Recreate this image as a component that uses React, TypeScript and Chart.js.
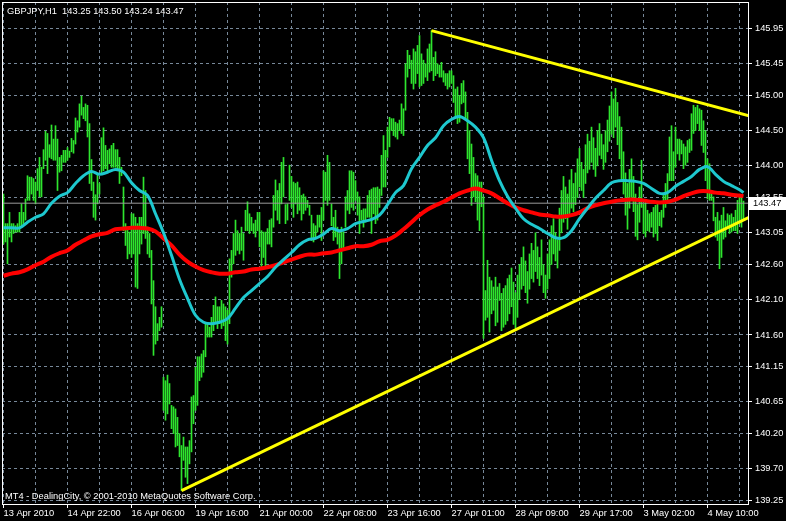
import { useEffect, useRef } from "react";
import { Chart, registerables } from "chart.js";

Chart.register(...registerables);

const WIDTH = 786;
const HEIGHT = 521;

const HEADER = "GBPJPY,H1  143.25 143.50 143.24 143.47";
const FOOTER = "MT4 - DealingCity, \u00a9 2001-2010 MetaQuotes Software Corp.";
const LAST_PRICE = 143.47;

// Time labels, one every 32 hourly bars
const TIME_LABELS = [
  "13 Apr 2010", "14 Apr 22:00", "16 Apr 06:00", "19 Apr 16:00", "21 Apr 00:00", "22 Apr 08:00",
  "23 Apr 16:00", "27 Apr 01:00", "28 Apr 09:00", "29 Apr 17:00", "3 May 02:00", "4 May 10:00",
];

const PRICE_TICKS = [
  145.95, 145.45, 145.0, 144.5, 144.0, 143.55, 143.05, 142.6, 142.1, 141.6, 141.15, 140.65, 140.2, 139.7, 139.25,
];

// Hourly bar highs
const HIGH = [
  143.60, 143.18, 143.18, 143.34, 143.18, 143.18, 143.15, 143.18, 143.34, 143.46, 143.34, 143.53, 143.86, 143.84, 143.84, 143.82,
  143.77, 143.96, 144.12, 143.98, 144.23, 144.49, 144.46, 144.30, 144.58, 144.38, 144.57, 144.38, 144.12, 144.15, 144.22, 144.22,
  144.26, 144.21, 144.39, 144.36, 144.68, 144.64, 144.88, 144.99, 144.83, 144.88, 144.86, 144.60, 144.09, 143.77, 143.59, 143.89,
  143.75, 144.40, 144.54, 144.29, 144.22, 144.24, 144.29, 144.32, 144.23, 144.23, 144.12, 143.98, 143.70, 143.18, 143.13, 143.06,
  143.32, 143.32, 143.27, 143.18, 143.27, 143.27, 143.84, 143.65, 143.13, 143.04, 142.80, 142.37, 142.00, 141.76, 141.85, 142.00,
  141.00, 140.95, 141.03, 140.91, 140.60, 140.58, 140.55, 140.43, 140.20, 140.03, 140.15, 140.01, 140.01, 140.10, 140.72, 140.74,
  141.14, 141.29, 141.29, 141.33, 141.38, 141.76, 141.78, 141.71, 141.85, 142.02, 142.14, 142.00, 142.00, 142.09, 142.04, 142.00,
  141.95, 142.68, 142.80, 143.04, 143.23, 143.08, 143.04, 143.13, 143.04, 143.37, 143.49, 143.32, 143.27, 143.18, 143.23, 143.34,
  143.34, 143.08, 143.06, 143.06, 143.11, 143.23, 143.25, 143.58, 143.80, 143.65, 143.75, 144.05, 144.12, 143.45, 143.46, 144.01,
  143.85, 143.77, 143.75, 143.77, 143.69, 143.58, 143.60, 143.56, 143.51, 143.44, 143.30, 143.18, 143.15, 143.30, 143.30, 143.41,
  143.93, 143.91, 144.15, 144.05, 143.46, 143.27, 143.37, 143.13, 143.04, 143.13, 143.06, 143.56, 143.65, 143.93, 143.93, 143.91,
  143.79, 143.63, 143.56, 143.37, 143.39, 143.39, 143.58, 143.65, 143.67, 143.69, 143.69, 143.70, 143.67, 144.15, 144.43, 144.22,
  144.55, 144.69, 144.67, 144.67, 144.62, 144.60, 144.65, 144.88, 144.81, 145.45, 145.64, 145.57, 145.50, 145.66, 145.62, 145.71,
  145.85, 145.59, 145.50, 145.45, 145.66, 145.73, 145.92, 145.54, 145.62, 145.45, 145.43, 145.47, 145.35, 145.31, 145.31, 145.35,
  145.35, 145.28, 145.09, 145.12, 145.00, 145.17, 145.21, 145.05, 144.76, 144.50, 144.31, 144.12, 143.89, 143.86, 143.77, 143.77,
  143.56, 142.23, 142.66, 142.42, 142.37, 142.28, 142.42, 142.28, 142.33, 142.19, 142.26, 142.30, 142.40, 142.45, 142.55, 142.35,
  142.20, 142.45, 142.60, 142.70, 142.85, 142.65, 142.50, 142.75, 142.90, 142.80, 143.05, 142.85, 142.70, 142.95, 142.60, 142.45,
  142.75, 142.95, 143.15, 143.25, 143.05, 142.95, 143.40, 143.65, 143.85, 143.70, 143.60, 143.80, 143.95, 143.75, 143.90, 144.10,
  144.25, 144.05, 143.95, 144.30, 144.45, 144.35, 144.55, 144.40, 144.25, 144.50, 144.60, 144.45, 144.30, 144.50, 144.65, 144.85,
  145.05, 144.95, 145.10, 144.90, 144.70, 144.55, 144.20, 143.90, 143.75, 143.95, 144.10, 143.85, 143.60, 143.45, 143.70, 144.08,
  143.46, 143.51, 143.37, 143.32, 143.34, 143.41, 143.44, 143.46, 143.34, 143.37, 143.58, 143.75, 143.89, 144.41, 144.57, 144.20,
  144.55, 144.38, 144.38, 144.36, 144.31, 144.27, 144.36, 144.38, 144.74, 144.86, 144.83, 144.86, 144.81, 144.79, 144.64, 144.50,
  144.10, 144.03, 143.65, 143.56, 143.27, 143.34, 143.22, 143.30, 143.41, 143.22, 143.32, 143.30, 143.32, 143.27, 143.37, 143.51,
  143.58, 143.58, 143.50,
];

// Hourly bar lows
const LOW = [
  142.89, 142.92, 142.61, 142.99, 142.92, 143.04, 143.06, 143.06, 143.06, 143.13, 143.18, 143.23, 143.51, 143.51, 143.60, 143.51,
  143.46, 143.65, 143.56, 143.56, 143.96, 144.08, 143.89, 144.12, 144.10, 144.08, 144.08, 143.65, 143.91, 143.93, 144.05, 144.05,
  144.08, 144.12, 144.20, 144.18, 144.31, 144.48, 144.55, 144.72, 144.67, 144.64, 144.41, 143.75, 143.65, 143.27, 143.23, 143.46,
  143.60, 143.89, 143.93, 143.96, 143.93, 144.03, 143.98, 143.98, 143.98, 143.93, 143.75, 143.86, 143.08, 142.87, 142.68, 142.75,
  142.70, 142.75, 142.28, 142.26, 142.75, 142.89, 143.04, 142.97, 142.75, 142.70, 142.04, 141.31, 141.47, 141.52, 141.66, 141.71,
  140.53, 140.39, 140.48, 140.62, 140.27, 140.20, 140.01, 140.03, 139.87, 139.39, 139.82, 139.58, 139.49, 139.77, 139.94, 140.34,
  140.53, 140.60, 140.95, 141.00, 141.07, 141.29, 141.57, 141.57, 141.57, 141.66, 141.76, 141.69, 141.76, 141.69, 141.73, 141.52,
  141.47, 141.76, 142.42, 142.61, 142.73, 142.80, 142.75, 142.80, 142.66, 143.08, 143.08, 143.04, 143.08, 143.04, 142.99, 143.08,
  142.85, 142.56, 142.70, 142.56, 142.89, 142.89, 142.85, 143.13, 143.37, 143.23, 143.18, 143.46, 143.56, 143.18, 143.23, 143.51,
  143.41, 143.27, 143.46, 143.32, 143.37, 143.23, 143.32, 143.37, 143.41, 143.30, 142.94, 142.92, 142.99, 143.06, 143.13, 142.94,
  143.23, 143.51, 143.44, 143.51, 143.15, 142.94, 142.99, 142.89, 142.40, 142.61, 142.80, 143.13, 143.37, 143.32, 143.41, 143.37,
  143.51, 143.30, 143.04, 143.23, 143.13, 143.20, 143.27, 143.27, 143.04, 143.32, 143.18, 143.23, 143.41, 143.58, 143.70, 143.70,
  144.12, 144.27, 144.50, 144.43, 144.41, 144.38, 144.50, 144.46, 144.43, 144.79, 145.26, 145.38, 145.17, 145.09, 145.17, 145.31,
  145.12, 145.14, 145.17, 145.26, 145.21, 145.33, 145.35, 145.21, 145.28, 145.31, 145.26, 145.26, 145.19, 145.14, 145.09, 145.12,
  145.17, 144.90, 144.69, 144.60, 144.62, 144.88, 144.90, 144.65, 144.10, 143.89, 143.44, 143.56, 143.49, 143.23, 143.08, 143.42,
  141.55, 141.81, 141.85, 141.64, 141.90, 141.95, 141.73, 141.78, 142.09, 141.66, 141.71, 141.75, 141.80, 141.90, 142.00, 141.75,
  141.70, 141.85, 142.10, 142.25, 142.30, 142.20, 142.05, 142.25, 142.40, 142.35, 142.50, 142.40, 142.30, 142.45, 142.20, 142.12,
  142.25, 142.40, 142.60, 142.75, 142.65, 142.55, 142.80, 143.05, 143.20, 143.25, 143.10, 143.30, 143.40, 143.35, 143.45, 143.55,
  143.70, 143.65, 143.55, 143.75, 143.90, 143.95, 144.05, 143.95, 143.85, 144.00, 144.15, 144.10, 143.95, 144.05, 144.20, 144.35,
  144.45, 144.40, 144.55, 144.30, 144.10, 143.80, 143.60, 143.30, 143.10, 143.40, 143.55, 143.35, 143.00, 142.95, 143.20, 143.41,
  143.04, 142.99, 143.08, 143.06, 143.13, 142.99, 143.04, 142.94, 143.15, 143.13, 143.27, 143.41, 143.51, 143.79, 143.79, 143.79,
  143.98, 144.17, 144.08, 144.17, 143.96, 144.01, 144.05, 144.19, 144.22, 144.46, 144.50, 144.60, 144.50, 144.29, 144.19, 143.79,
  143.53, 143.51, 143.51, 143.22, 142.99, 142.94, 142.54, 142.70, 142.96, 142.99, 143.11, 143.04, 143.06, 143.08, 143.08, 143.04,
  143.18, 143.13, 143.24,
];

// Moving averages, sampled every MA_STEP bars (the last sample sits on the final bar)
const MA_STEP = 4;
const MA_FAST = [
  143.12, 143.12, 143.12, 143.20, 143.27, 143.32, 143.47, 143.57, 143.62, 143.75, 143.86, 143.92, 143.88, 143.91, 143.95, 143.91,
  143.76, 143.65, 143.58, 143.32, 143.05, 142.73, 142.39, 142.12, 141.88, 141.78, 141.76, 141.78, 141.83, 141.98, 142.13, 142.23,
  142.33, 142.43, 142.56, 142.67, 142.77, 142.88, 142.95, 142.97, 143.03, 143.11, 143.08, 143.11, 143.18, 143.21, 143.24, 143.30,
  143.45, 143.62, 143.72, 143.96, 144.12, 144.29, 144.40, 144.57, 144.66, 144.70, 144.64, 144.55, 144.40, 144.08, 143.79, 143.57,
  143.40, 143.25, 143.17, 143.11, 143.04, 142.98, 142.98, 143.08, 143.25, 143.40, 143.54, 143.65, 143.76, 143.79, 143.79, 143.78,
  143.75, 143.68, 143.61, 143.62, 143.71, 143.78, 143.85, 143.95, 143.99, 143.88, 143.78, 143.72, 143.66,
  143.62,
];
const MA_SLOW = [
  142.44, 142.47, 142.49, 142.53, 142.59, 142.64, 142.71, 142.76, 142.80, 142.88, 142.94, 143.00, 143.03, 143.05, 143.10, 143.11,
  143.12, 143.12, 143.11, 143.07, 142.97, 142.87, 142.74, 142.64, 142.57, 142.52, 142.49, 142.47, 142.47, 142.49, 142.50, 142.53,
  142.54, 142.56, 142.59, 142.63, 142.67, 142.71, 142.74, 142.74, 142.76, 142.77, 142.80, 142.83, 142.86, 142.86, 142.88, 142.93,
  142.95, 143.01, 143.10, 143.20, 143.30, 143.38, 143.44, 143.49, 143.55, 143.61, 143.65, 143.68, 143.65, 143.61, 143.54, 143.47,
  143.41, 143.37, 143.34, 143.31, 143.30, 143.28, 143.28, 143.30, 143.34, 143.40, 143.44, 143.47, 143.49, 143.51, 143.52, 143.52,
  143.51, 143.49, 143.48, 143.49, 143.52, 143.57, 143.61, 143.64, 143.64, 143.62, 143.61, 143.59, 143.58,
  143.57,
];

// Trend lines: anchor bar and price
const UPPER_TREND = [
  { bar: 214, price: 145.92 },
  { bar: 372.75, price: 144.71 },
];
const LOWER_TREND = [
  { bar: 89, price: 139.39 },
  { bar: 372.75, price: 143.27 },
];

const BAR_COLOR = "#2ee52e";
const FAST_COLOR = "#1ec8cf";
const SLOW_COLOR = "#ff0000";
const TREND_COLOR = "#ffff00";
const GRID_COLOR = "#778899";
const BID_COLOR = "#9a9a9a";
const FONT = "'Liberation Sans', Arial, sans-serif";
const FONT_SIZE = 9.3;

const X_MIN = -0.75;
const X_MAX = 372.75;
const Y_MIN = 139.186;
const Y_MAX = 146.326;

export default function App() {
  const canvasRef = useRef<HTMLCanvasElement | null>(null);

  useEffect(() => {
    const canvas = canvasRef.current;
    if (!canvas) return;
    const lastBar = HIGH.length - 1;

    const terminalLook = {
      id: "terminalLook",
      beforeDraw(chart: any) {
        const { ctx } = chart;
        ctx.save();
        ctx.fillStyle = "#000";
        ctx.fillRect(0, 0, chart.width, chart.height);
        ctx.restore();
      },
      afterDraw(chart: any) {
        const { ctx, chartArea: a, scales } = chart;
        ctx.save();
        // frame
        ctx.strokeStyle = "#ffffff";
        ctx.lineWidth = 1;
        ctx.strokeRect(a.left + 0.5, a.top + 0.5, a.right - a.left - 1, a.bottom - a.top - 1);
        // captions
        ctx.font = `${FONT_SIZE}px ${FONT}`;
        ctx.fillStyle = "#ffffff";
        ctx.textAlign = "left";
        ctx.textBaseline = "alphabetic";
        ctx.fillText(HEADER, a.left + 5, a.top + 12);
        ctx.fillText(FOOTER, a.left + 3, a.bottom - 6);
        // last price marker on the price axis
        const y = Math.round(scales.y.getPixelForValue(LAST_PRICE));
        ctx.fillRect(a.right, y - 6, chart.width - a.right, 13);
        ctx.fillStyle = "#000000";
        ctx.textBaseline = "middle";
        ctx.fillText(LAST_PRICE.toFixed(2), a.right + 4, y + 0.5);
        ctx.restore();
      },
    };

    const chart = new Chart(canvas, {
      type: "bar",
      data: {
        datasets: [
          {
            type: "line",
            data: UPPER_TREND.map((p) => ({ x: p.bar, y: p.price })),
            borderColor: TREND_COLOR,
            borderWidth: 3,
            pointRadius: 0,
            clip: 0,
            order: 1,
          },
          {
            type: "line",
            data: LOWER_TREND.map((p) => ({ x: p.bar, y: p.price })),
            borderColor: TREND_COLOR,
            borderWidth: 3,
            pointRadius: 0,
            clip: 0,
            order: 1,
          },
          {
            type: "line",
            data: MA_FAST.map((v, k) => ({ x: Math.min(k * MA_STEP, lastBar), y: v })),
            borderColor: FAST_COLOR,
            borderWidth: 3,
            pointRadius: 0,
            tension: 0.35,
            clip: 0,
            order: 2,
          },
          {
            type: "line",
            data: MA_SLOW.map((v, k) => ({ x: Math.min(k * MA_STEP, lastBar), y: v })),
            borderColor: SLOW_COLOR,
            borderWidth: 4,
            pointRadius: 0,
            tension: 0.35,
            clip: 0,
            order: 3,
          },
          {
            type: "line",
            data: [
              { x: X_MIN, y: LAST_PRICE },
              { x: X_MAX, y: LAST_PRICE },
            ],
            borderColor: BID_COLOR,
            borderWidth: 1,
            pointRadius: 0,
            clip: 0,
            order: 4,
          },
          {
            type: "bar",
            data: HIGH.map((h, i) => ({ x: i, y: [LOW[i], h] })),
            backgroundColor: BAR_COLOR,
            borderWidth: 0,
            borderSkipped: false,
            barThickness: 1,
            grouped: false,
            order: 5,
          },
        ] as any,
      },
      options: {
        responsive: false,
        maintainAspectRatio: false,
        devicePixelRatio: 1,
        animation: false,
        events: [],
        layout: { padding: { left: 2, top: 2, right: 0, bottom: 0 } },
        plugins: {
          legend: { display: false },
          tooltip: { enabled: false },
          title: { display: false },
        },
        scales: {
          x: {
            type: "linear",
            position: "bottom",
            min: X_MIN,
            max: X_MAX,
            offset: false,
            afterBuildTicks: (scale: any) => {
              const ticks = [];
              for (let v = 0; v <= lastBar; v += 16) ticks.push({ value: v });
              scale.ticks = ticks;
            },
            afterFit: (scale: any) => {
              scale.height = HEIGHT - 505;
              scale.paddingLeft = 0;
              scale.paddingRight = 0;
            },
            grid: {
              offset: false,
              color: GRID_COLOR,
              lineWidth: 1,
              drawTicks: true,
              tickLength: 3,
              tickWidth: 1,
              tickBorderDash: [],
              tickColor: (ctx: any) => (ctx.index % 2 === 0 ? "#ffffff" : "rgba(0,0,0,0)"),
            },
            border: { display: false, dash: [3, 3] },
            ticks: {
              autoSkip: false,
              maxRotation: 0,
              minRotation: 0,
              align: "start",
              padding: 0,
              color: "#ffffff",
              font: { family: FONT, size: FONT_SIZE },
              callback: (_v: any, index: number) => (index % 2 === 0 ? TIME_LABELS[index / 2] ?? "" : ""),
            },
          },
          y: {
            type: "linear",
            position: "right",
            min: Y_MIN,
            max: Y_MAX,
            afterBuildTicks: (scale: any) => {
              scale.ticks = PRICE_TICKS.map((v) => ({ value: v }));
            },
            afterFit: (scale: any) => {
              scale.width = WIDTH - 749;
              scale.paddingTop = 0;
              scale.paddingBottom = 0;
            },
            grid: {
              color: GRID_COLOR,
              lineWidth: 1,
              drawTicks: true,
              tickLength: 3,
              tickWidth: 1,
              tickBorderDash: [],
              tickColor: "#ffffff",
            },
            border: { display: false, dash: [3, 3] },
            ticks: {
              autoSkip: false,
              padding: 3,
              color: "#ffffff",
              font: { family: FONT, size: FONT_SIZE },
              callback: (v: any) => Number(v).toFixed(2),
            },
          },
        },
      } as any,
      plugins: [terminalLook],
    });

    return () => chart.destroy();
  }, []);

  return (
    <div style={{ position: "fixed", left: 0, top: 0, width: WIDTH, height: HEIGHT, background: "#000" }}>
      <canvas ref={canvasRef} width={WIDTH} height={HEIGHT} style={{ display: "block", width: WIDTH, height: HEIGHT }} />
    </div>
  );
}
